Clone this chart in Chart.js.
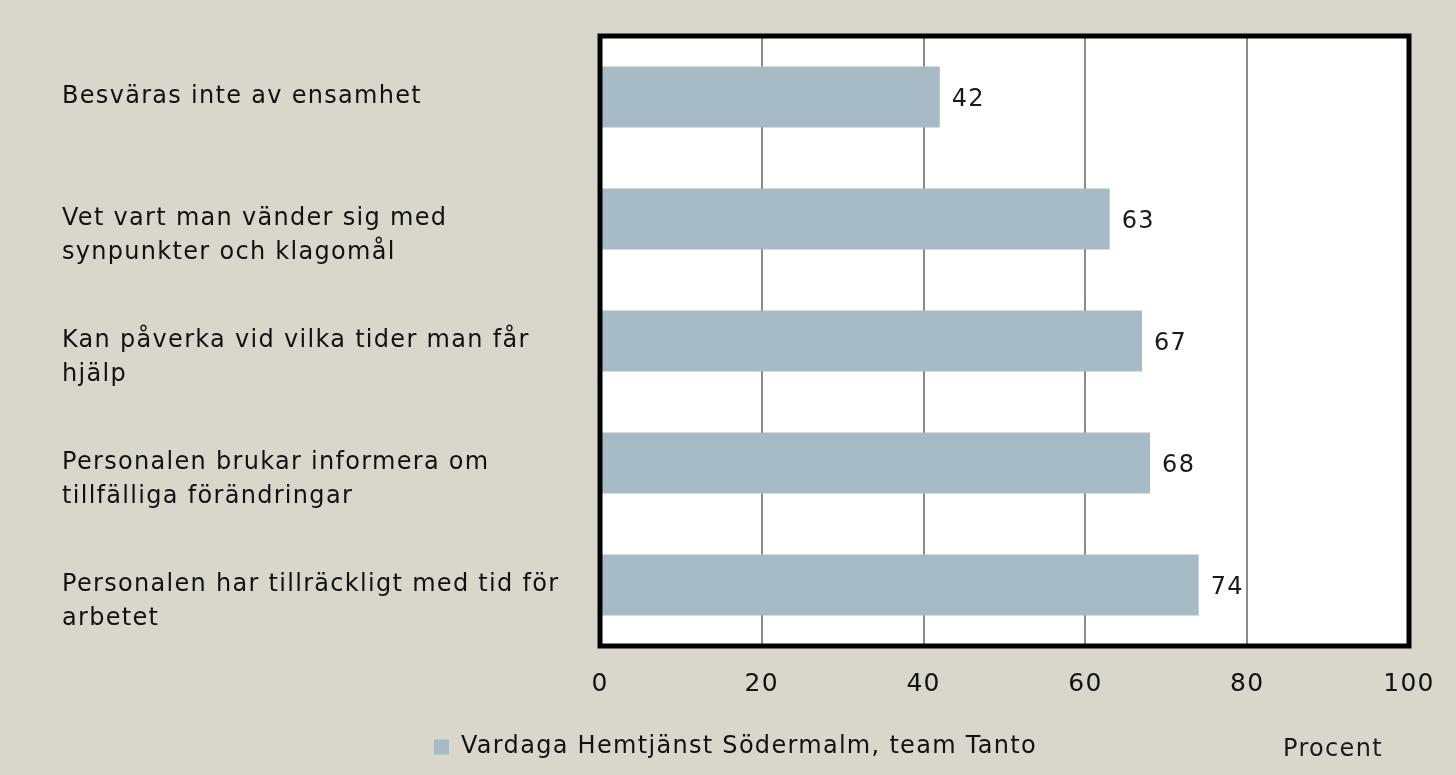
<!DOCTYPE html>
<html>
<head>
<meta charset="utf-8">
<script src="https://cdn.jsdelivr.net/npm/chart.js@4.4.1/dist/chart.umd.min.js"></script>
<style>
  html, body { margin: 0; padding: 0; background: #d9d7cb; }
  #wrap { width: 1456px; height: 775px; position: relative; }
</style>
</head>
<body>
<div id="wrap"><canvas id="chart"></canvas></div>
<script>
// chart data
const categories = [
    ['Besväras inte av ensamhet'],
    ['Vet vart man vänder sig med', 'synpunkter och klagomål'],
    ['Kan påverka vid vilka tider man får', 'hjälp'],
    ['Personalen brukar informera om', 'tillfälliga förändringar'],
    ['Personalen har tillräckligt med tid för', 'arbetet']
];
const values = [42, 63, 67, 68, 74];
const seriesName = 'Vardaga Hemtjänst Södermalm, team Tanto';
const xTicks = [0, 20, 40, 60, 80, 100];
const axisTitle = 'Procent';

const FONT = 'DejaVu Sans';
const barColor = '#a7bbc6';

// wider text to get closer to the original's geometric face
const spacing = {
    id: 'spacing',
    beforeLayout(chart) { chart.ctx.letterSpacing = '1.3px'; },
    beforeDraw(chart) { chart.ctx.letterSpacing = '1.3px'; }
};

// white plot background + thick black frame
const frame = {
    id: 'frame',
    beforeDraw(chart) {
        const { ctx, chartArea: a } = chart;
        ctx.save();
        ctx.fillStyle = '#ffffff';
        ctx.fillRect(a.left, a.top, a.right - a.left, a.bottom - a.top);
        ctx.restore();
    },
    afterDatasetsDraw(chart) {
        const { ctx, chartArea: a } = chart;
        ctx.save();
        ctx.strokeStyle = '#000';
        ctx.lineWidth = 5;
        ctx.strokeRect(a.left, a.top, a.right - a.left, a.bottom - a.top);
        ctx.restore();
    }
};

// value labels next to bars + the "Procent" title
const valueLabels = {
    id: 'valueLabels',
    afterDraw(chart) {
        const { ctx, chartArea: a } = chart;
        ctx.save();
        ctx.font = '24px ' + FONT;
        ctx.fillStyle = '#1a1a1a';
        ctx.textBaseline = 'middle';
        ctx.textAlign = 'left';
        chart.getDatasetMeta(0).data.forEach((bar, i) => {
            ctx.fillText(values[i], bar.x + 12, bar.y + 3);
        });
        ctx.textAlign = 'center';
        ctx.fillText(axisTitle, a.right - 76, a.bottom + 104);
        ctx.restore();
    }
};

new Chart(document.getElementById('chart'), {
    type: 'bar',
    data: {
        labels: categories,
        datasets: [{
            label: seriesName,
            data: values,
            backgroundColor: barColor,
            borderWidth: 0,
            barPercentage: 1,
            categoryPercentage: 0.5
        }]
    },
    options: {
        indexAxis: 'y',
        responsive: true,
        maintainAspectRatio: false,
        animation: false,
        layout: { padding: { left: 62, right: 47, top: 36, bottom: 6 } },
        scales: {
            x: {
                min: 0, max: 100,
                afterBuildTicks: (s) => { s.ticks = xTicks.map(v => ({ value: v })); },
                grid: { color: '#8a8a8a', lineWidth: 2, drawTicks: false },
                border: { display: false },
                ticks: { padding: 23, color: '#111', font: { family: FONT, size: 25 } },
                afterFit: (s) => { s.height = 80; s.paddingLeft = 0; s.paddingRight = 0; }
            },
            y: {
                grid: { display: false },
                border: { display: false },
                ticks: {
                    crossAlign: 'far',
                    color: '#111',
                    font: { family: FONT, size: 24, lineHeight: 1.4 },
                    callback: (v, i) => categories[i].length > 1 ? ['', ...categories[i]] : categories[i]
                },
                afterFit: (s) => { s.width = 538; s.paddingTop = 0; s.paddingBottom = 0; }
            }
        },
        plugins: {
            legend: {
                position: 'bottom',
                labels: {
                    color: '#111',
                    font: { family: FONT, size: 24 },
                    boxWidth: 15, boxHeight: 15,
                    padding: 9
                }
            },
            tooltip: { enabled: false }
        }
    },
    plugins: [spacing, frame, valueLabels]
});
</script>
</body>
</html>
